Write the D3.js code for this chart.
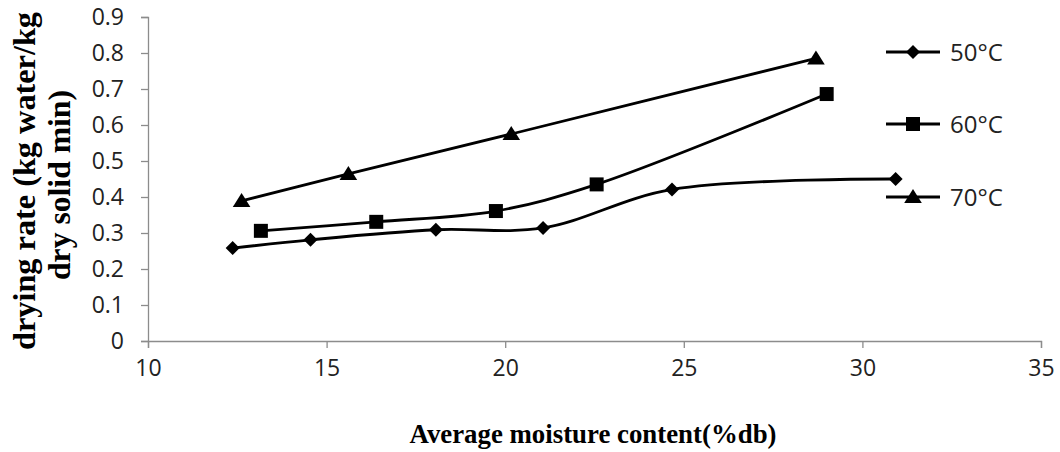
<meta charset="utf-8">
<script src="https://cdn.jsdelivr.net/npm/d3@7"></script>

<style>
  body { margin: 0; background: #fff; }
  .title { font-family: "Liberation Serif"; font-weight: bold; fill: #000; }
</style>

<div id="chart"></div>

<script>
// data
var series = ["50°C", "60°C", "70°C"];
var x50 = [12.37, 14.55, 18.06, 21.06, 24.67, 30.93];
var y50 = [0.258, 0.281, 0.309, 0.314, 0.421, 0.450];
var x60 = [13.16, 16.39, 19.74, 22.56, 29.0];
var y60 = [0.306, 0.331, 0.361, 0.435, 0.686];
var x70 = [12.62, 15.61, 20.17, 28.7];
var y70 = [0.389, 0.464, 0.575, 0.785];
var xTicks = [10, 15, 20, 25, 30, 35];
var yTicks = [0, 0.1, 0.2, 0.3, 0.4, 0.5, 0.6, 0.7, 0.8, 0.9];

var width = 1060, height = 452;
var margin = {top: 17, right: 19, bottom: 111, left: 148};

var svg = d3.select("#chart").append("svg")
    .attr("width", width)
    .attr("height", height);

var x = d3.scaleLinear().domain([10, 35]).range([margin.left, width - margin.right]);
var y = d3.scaleLinear().domain([0, 0.9]).range([height - margin.bottom, margin.top]);

function styleAxis(g) {
  g.selectAll("line, path").attr("stroke", "#8c8c8c").attr("stroke-width", 1.3);
  g.selectAll("text")
    .style("font-family", "Open Sans")
    .style("font-size", "23px")
    .style("fill", "#222");
}

// axes
svg.append("g")
    .attr("transform", "translate(0," + y(0) + ")")
    .call(d3.axisBottom(x).tickValues(xTicks).tickSize(7).tickPadding(12).tickFormat(d3.format("d")))
    .call(styleAxis);

svg.append("g")
    .attr("transform", "translate(" + x(10) + ",0)")
    .call(d3.axisLeft(y).tickValues(yTicks).tickSize(7).tickPadding(17)
        .tickFormat(d => d === 0 ? "0" : d3.format(".1f")(d)))
    .call(styleAxis);

// marker shapes
var diamond = { draw: function(c, s) { c.moveTo(0, -s); c.lineTo(s, 0); c.lineTo(0, s); c.lineTo(-s, 0); c.closePath(); } };
var square = { draw: function(c, s) { c.rect(-s, -s, 2 * s, 2 * s); } };
var triangle = { draw: function(c, s) { c.moveTo(0, -s); c.lineTo(s * 1.1, s * 0.75); c.lineTo(-s * 1.1, s * 0.75); c.closePath(); } };

var data = [
  {name: series[0], xs: x50, ys: y50, shape: diamond, size: 7},
  {name: series[1], xs: x60, ys: y60, shape: square, size: 7},
  {name: series[2], xs: x70, ys: y70, shape: triangle, size: 8}
];

var line = d3.line()
    .x(d => x(d[0]))
    .y(d => y(d[1]))
    .curve(d3.curveCatmullRom.alpha(0.5));

data.forEach(function(s) {
  var pts = s.xs.map((v, i) => [v, s.ys[i]]);
  svg.append("path")
      .attr("d", line(pts))
      .attr("fill", "none")
      .attr("stroke", "#000")
      .attr("stroke-width", 2.8);
  svg.selectAll(null)
    .data(pts)
    .enter()
    .append("path")
      .attr("transform", d => "translate(" + x(d[0]) + "," + y(d[1]) + ")")
      .attr("d", d3.symbol().type(s.shape).size(s.size))
      .attr("fill", "#000");
});

// legend
var legY = [52, 124, 197];
data.forEach(function(s, i) {
  var g = svg.append("g").attr("transform", "translate(913," + legY[i] + ")");
  g.append("line").attr("x1", -27).attr("x2", 27).attr("stroke", "#000").attr("stroke-width", 2.8);
  g.append("path").attr("d", d3.symbol().type(s.shape).size(s.size)).attr("fill", "#000");
  g.append("text")
      .attr("x", 37)
      .attr("dy", "0.36em")
      .style("font-family", "Open Sans")
      .style("font-size", "24px")
      .style("fill", "#222")
      .text(s.name);
});

// axis titles
svg.append("text")
    .attr("class", "title")
    .attr("x", 593)
    .attr("y", 443)
    .attr("text-anchor", "middle")
    .attr("font-size", 28)
    .attr("textLength", 367)
    .attr("lengthAdjust", "spacingAndGlyphs")
    .text("Average moisture content(%db)");

svg.append("text")
    .attr("class", "title")
    .attr("transform", "translate(35,181) rotate(-90)")
    .attr("text-anchor", "middle")
    .attr("font-size", 32)
    .attr("textLength", 338)
    .attr("lengthAdjust", "spacingAndGlyphs")
    .text("drying rate (kg water/kg");

svg.append("text")
    .attr("class", "title")
    .attr("transform", "translate(70,185) rotate(-90)")
    .attr("text-anchor", "middle")
    .attr("font-size", 32)
    .attr("textLength", 190)
    .attr("lengthAdjust", "spacingAndGlyphs")
    .text("dry solid min)");
</script>
